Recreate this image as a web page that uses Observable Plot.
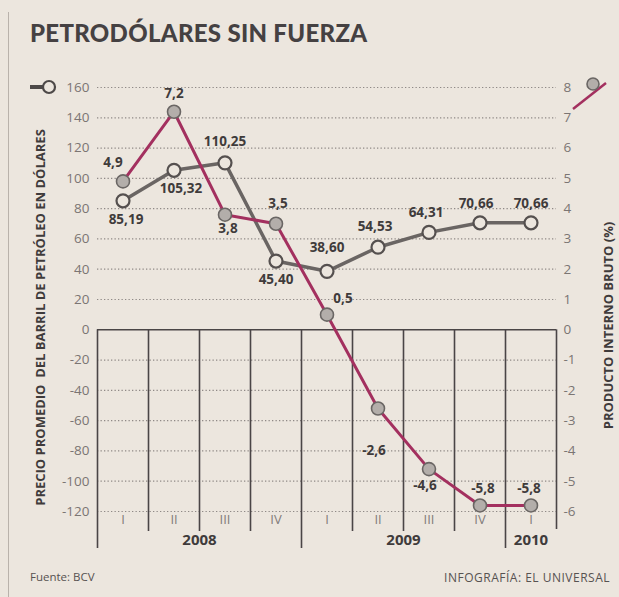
<!DOCTYPE html>
<html>
<head>
<meta charset="utf-8">
<script src="https://cdn.jsdelivr.net/npm/d3@7"></script>
<script src="https://cdn.jsdelivr.net/npm/@observablehq/plot@0.6"></script>
<style>
  html, body { margin: 0; padding: 0; background: #ece6de; }
  #wrap { position: relative; width: 619px; height: 597px; overflow: hidden; background: #ece6de; }
  #title { position: absolute; left: 30px; top: 21px; font-family: Lato, "Open Sans", sans-serif; font-weight: 900; font-size: 24px; line-height: 24px; color: #454142; letter-spacing: 0.3px; white-space: nowrap; }
  #chart { position: absolute; left: 0; top: 62px; }
  #legend { position: absolute; left: 0; top: 0; }
  .foot { position: absolute; top: 569px; font-family: "Open Sans", sans-serif; font-size: 11.5px; color: #575251; white-space: nowrap; }
  #src { left: 30px; }
  #credit { right: 9px; font-size: 12px; letter-spacing: 0.5px; }
  #border { position: absolute; left: 8px; top: 12px; width: 1px; height: 590px; background: #b9b2ab; }
</style>
</head>
<body>
<div id="wrap">
  <div id="border"></div>
  <div id="title">PETRODÓLARES SIN FUERZA</div>
  <div id="chart"></div>
  <svg id="legend" width="619" height="130">
    <line x1="30" y1="87" x2="43" y2="87" stroke="#4d4948" stroke-width="4"/>
    <circle cx="49" cy="87" r="6" fill="#ece6de" stroke="#4d4948" stroke-width="2.2"/>
    <line x1="573" y1="109" x2="606" y2="83" stroke="#a3305f" stroke-width="2.5"/>
    <circle cx="593" cy="84" r="6" fill="#b3aeaa" stroke="#6a6664" stroke-width="1.6"/>
  </svg>
  <div class="foot" id="src">Fuente: BCV</div>
  <div class="foot" id="credit">INFOGRAFÍA: EL UNIVERSAL</div>
</div>
<script>
// ---- data ----
const quarters = ["I", "II", "III", "IV", "I", "II", "III", "IV", "I"];
const years = ["2008", "2009", "2010"];
const yearStart = [0, 4, 8];
const yearEnd = [4, 8, 9];
const price = [85.19, 105.32, 110.25, 45.40, 38.60, 54.53, 64.31, 70.66, 70.66];
const gdp = [4.9, 7.2, 3.8, 3.5, 0.5, -2.6, -4.6, -5.8, -5.8];
const priceTicks = [-120, -100, -80, -60, -40, -20, 0, 20, 40, 60, 80, 100, 120, 140, 160];
const gdpTicks = [-6, -5, -4, -3, -2, -1, 0, 1, 2, 3, 4, 5, 6, 7, 8];
const leftTitle = "PRECIO PROMEDIO  DEL BARRIL DE PETRÓLEO EN DÓLARES";
const rightTitle = "PRODUCTO INTERNO BRUTO (%)";

// ---- layout (label offsets in px) ----
const priceOff = [[3, 19], [7, 18], [0, -21], [0, 19], [0, -24], [-3, -21], [-3, -20], [-4, -19], [0, -19]];
const gdpOff = [[-10, -19], [0, -18], [3, 14], [2, -20], [16, -16], [-4, 42], [-4, 17], [3, -17], [-2, -17]];

// right axis: 8 % aligned with 160 $
const GDP_TO_PRICE = 20;

const loc = d3.formatLocale({decimal: ",", thousands: ".", grouping: [3], currency: ["", ""], minus: "-"});
const f2 = loc.format(".2f");
const f1 = loc.format(".1f");
const fi = loc.format("d");

const idx = d3.range(quarters.length);
const rows = idx.map(i => ({i, q: quarters[i], price: price[i], gdp: gdp[i]}));
const bounds = d3.range(quarters.length + 1);
const yearBounds = new Set([...yearStart, ...yearEnd.slice(-1)]);
const yrs = years.map((y, k) => ({y, c: (yearStart[k] + yearEnd[k]) / 2}));

const dark = "#3f3b3b";
const gridC = "#8f8986";
const tickFont = "'Open Sans', sans-serif";
const boldFont = "'Open Sans', sans-serif";

const labelMarks = [];
rows.forEach((r, k) => {
  labelMarks.push(Plot.text([r], {x: d => d.i + 0.5, y: d => d.price, text: d => f2(d.price),
    dx: priceOff[k][0], dy: priceOff[k][1], fontWeight: 700, fontSize: 13.5, fontFamily: boldFont, fill: dark}));
  labelMarks.push(Plot.text([r], {x: d => d.i + 0.5, y: d => d.gdp * GDP_TO_PRICE, text: d => f1(d.gdp),
    dx: gdpOff[k][0], dy: gdpOff[k][1], fontWeight: 700, fontSize: 13.5, fontFamily: boldFont, fill: dark}));
});

const chart = Plot.plot({
  width: 619,
  height: 500,
  marginLeft: 97,
  marginRight: 63,
  marginTop: 25,
  marginBottom: 51,
  style: {background: "transparent", overflow: "visible"},
  x: {domain: [0, quarters.length], axis: null},
  y: {domain: [-120, 160], axis: null},
  marks: [
    Plot.ruleY(priceTicks.filter(t => t !== 0), {stroke: gridC, strokeWidth: 1.2, strokeDasharray: "1.3,2.2"}),
    Plot.ruleX(bounds.filter(b => !yearBounds.has(b) && b !== quarters.length), {x: d => d, y1: 0, y2: -120, insetBottom: -20, stroke: "#4a4546", strokeWidth: 1.6}),
    Plot.ruleX([quarters.length], {x: d => d, y1: 0, y2: -120, insetBottom: -18, stroke: "#4a4546", strokeWidth: 1.6}),
    Plot.ruleX(bounds.filter(b => yearBounds.has(b) && b !== quarters.length), {x: d => d, y1: 0, y2: -120, insetBottom: -37, stroke: "#4a4546", strokeWidth: 1.6}),
    Plot.ruleY([0], {stroke: "#4a4546", strokeWidth: 1.6}),
    Plot.text(rows, {x: d => d.i + 0.5, text: "q", frameAnchor: "bottom", dy: 12, fontSize: 13, fontFamily: tickFont, fill: "#827c7a"}),
    Plot.text(yrs, {x: "c", text: "y", frameAnchor: "bottom", dy: 33, fontSize: 15, fontWeight: 700, fontFamily: boldFont, fill: dark}),
    Plot.axisY(priceTicks, {anchor: "left", label: null, tickSize: 0, tickPadding: 8, tickFormat: fi, fontSize: 13.5, fontFamily: tickFont, color: "#7b7573"}),
    Plot.axisY(gdpTicks.map(t => t * GDP_TO_PRICE), {anchor: "right", label: null, tickSize: 0, tickPadding: 7, tickFormat: d => fi(d / GDP_TO_PRICE), fontSize: 13.5, fontFamily: tickFont, color: "#7b7573"}),
    Plot.text([leftTitle], {frameAnchor: "left", textAnchor: "middle", dx: -57, dy: 18, rotate: -90, fontSize: 13, fontWeight: 700, fontFamily: boldFont, fill: dark, ariaLabel: "ytitle-left"}),
    Plot.text([rightTitle], {frameAnchor: "right", textAnchor: "middle", dx: 52, dy: 26, rotate: -90, fontSize: 13, fontWeight: 700, fontFamily: boldFont, fill: dark, ariaLabel: "ytitle-right"}),
    Plot.line(rows, {x: d => d.i + 0.5, y: "price", stroke: "#6a6563", strokeWidth: 3.5}),
    Plot.dot(rows, {x: d => d.i + 0.5, y: "price", r: 6.5, fill: "#ece6de", stroke: "#55504f", strokeWidth: 2.2}),
    Plot.line(rows, {x: d => d.i + 0.5, y: d => d.gdp * GDP_TO_PRICE, stroke: "#a3305f", strokeWidth: 3}),
    Plot.dot(rows, {x: d => d.i + 0.5, y: d => d.gdp * GDP_TO_PRICE, r: 6.5, fill: "#b3aeaa", stroke: "#6a6664", strokeWidth: 1.6}),
    ...labelMarks
  ]
});
// condense the rotated axis titles to the reference's length
d3.select(chart).select('g[aria-label="ytitle-left"] text').attr("textLength", 357).attr("lengthAdjust", "spacingAndGlyphs");
d3.select(chart).select('g[aria-label="ytitle-right"] text').attr("textLength", 207).attr("lengthAdjust", "spacingAndGlyphs");
document.getElementById("chart").appendChild(chart);
</script>
</body>
</html>
